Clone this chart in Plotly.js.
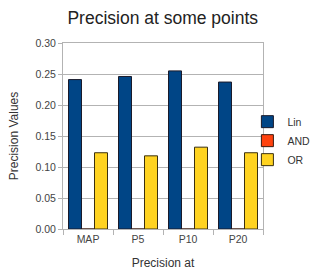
<!DOCTYPE html>
<html><head><meta charset="utf-8">
<script src="https://cdn.plot.ly/plotly-3.0.1.min.js"></script>
<style>html,body{margin:0;padding:0;background:#fff}#c{width:310px;height:270px}</style>
</head><body><div id="c"></div>
<script>
const categories = ["MAP", "P5", "P10", "P20"];
const linValues = [0.241, 0.246, 0.255, 0.237];
const andValues = [0, 0, 0, 0];
const orValues = [0.123, 0.118, 0.132, 0.123];
const seriesNames = ["Lin", "AND", "OR"];

const colors = ["#004586", "#ff420e", "#ffd320"];
const lineColors = ["#1a1a2a", "#3a1a10", "#3a3010"];
const vals = [linValues, andValues, orValues];
const traces = vals.map((v, i) => ({
  type: "bar", x: categories, y: v, name: seriesNames[i],
  marker: {color: colors[i], line: {color: lineColors[i], width: 1}}
}));
const layout = {
  width: 310, height: 270,
  margin: {l: 63, r: 47, t: 43, b: 41, autoexpand: false},
  paper_bgcolor: "#fff", plot_bgcolor: "#fff",
  font: {family: "Liberation Sans, Arial, sans-serif", color: "#333", size: 10},
  title: {text: "Precision at some points", font: {size: 17.5, color: "#222"}, x: 0.525, xanchor: "center", y: 0.935, yanchor: "middle"},
  barmode: "group", bargap: 0.22, bargroupgap: 0,
  xaxis: {
    title: {text: "Precision at", font: {size: 12}, standoff: 19},
    tickson: "boundaries", ticks: "outside", ticklen: 5, tickcolor: "#b3b3b3",
    showline: true, linecolor: "#b3b3b3", mirror: true, showgrid: false,
    tickfont: {size: 10.5, color: "#444"}, automargin: true
  },
  yaxis: {
    title: {text: "Precision Values", font: {size: 12}, standoff: 14},
    range: [0, 0.30], dtick: 0.05, tickformat: ".2f",
    ticks: "outside", ticklen: 4, tickcolor: "#b3b3b3",
    showline: true, linecolor: "#b3b3b3", mirror: true,
    gridcolor: "#b3b3b3", gridwidth: 1, zeroline: false,
    tickfont: {size: 10.5, color: "#444"}, automargin: false
  },
  legend: {x: 0.922, xanchor: "left", y: 0.475, yanchor: "middle", font: {size: 10.5, color: "#333"},
    tracegroupgap: 0, itemwidth: 30, bgcolor: "rgba(0,0,0,0)"},
  showlegend: true
};
Plotly.newPlot("c", traces, layout, {displayModeBar: false, staticPlot: true});
</script>
</body></html>
